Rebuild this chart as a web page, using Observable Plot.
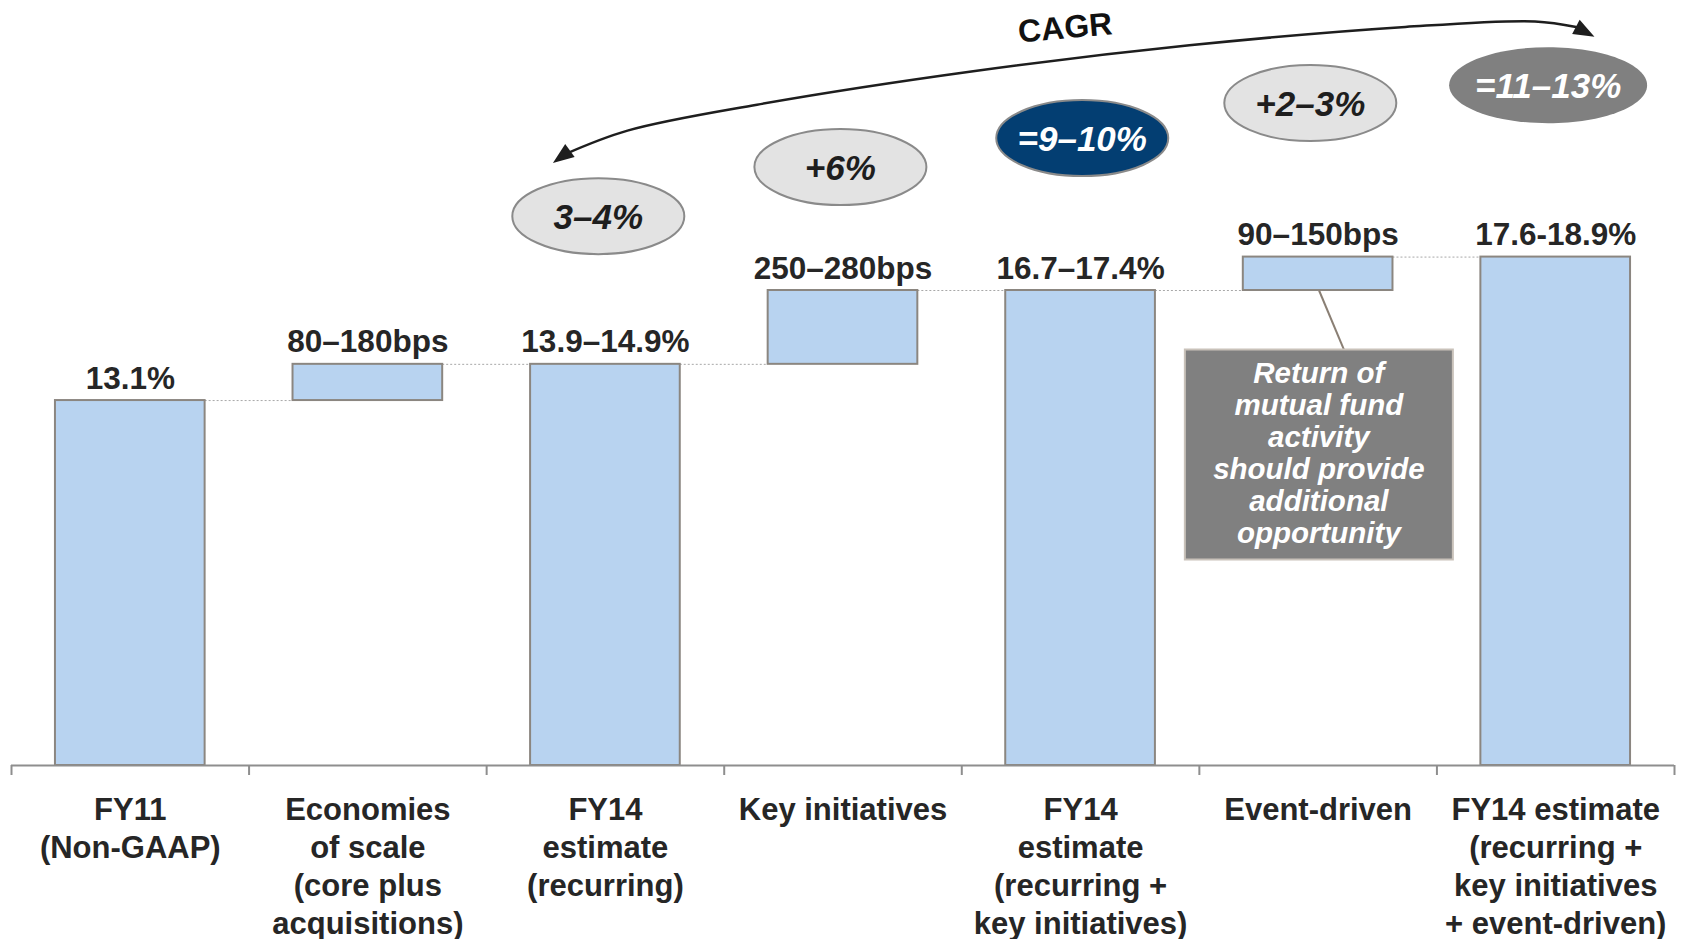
<!DOCTYPE html>
<html><head><meta charset="utf-8">
<script src="https://cdn.jsdelivr.net/npm/d3@7"></script>
<script src="https://cdn.jsdelivr.net/npm/@observablehq/plot@0.6"></script>
<style>
html,body{margin:0;padding:0;background:#fff;}
#chart{width:1694px;height:939px;overflow:hidden;}
</style></head><body><div id="chart"></div>
<script>
// ---- data ----
const categories = [
  "FY11\n(Non-GAAP)",
  "Economies\nof scale\n(core plus\nacquisitions)",
  "FY14\nestimate\n(recurring)",
  "Key initiatives",
  "FY14\nestimate\n(recurring +\nkey initiatives)",
  "Event-driven",
  "FY14 estimate\n(recurring +\nkey initiatives\n+ event-driven)"
];
const barStart = [0, 13.1, 0, 14.4, 0, 17.05, 0];
const barEnd = [13.1, 14.4, 14.4, 17.05, 17.05, 18.25, 18.25];
const valueLabels = ["13.1%", "80–180bps", "13.9–14.9%", "250–280bps", "16.7–17.4%", "90–150bps", "17.6-18.9%"];
const cagrLabels = ["3–4%", "+6%", "=9–10%", "+2–3%", "=11–13%"];
const cagrTitle = "CAGR";
const calloutText = "Return of\nmutual fund\nactivity\nshould provide\nadditional\nopportunity";

// ---- layout (annotation anchors in chart units: category index, % value) ----
const W = 1694, H = 939;
const font = "'Liberation Sans', Arial, Helvetica, sans-serif";
const textColor = "#262626";
const bandPad = 0.185;
const ellipseAt = [
  {x: 2.470, y: 19.72}, {x: 3.489, y: 21.48}, {x: 4.507, y: 22.52},
  {x: 5.467, y: 23.78}, {x: 6.468, y: 24.42}
];
const ellipseFill = ["#e3e3e3", "#e3e3e3", "#033e72", "#e3e3e3", "#808080"];
const ellipseStroke = ["#8a8a8a", "#8a8a8a", "#8a8a8a", "#8a8a8a", "none"];
const ellipseText = ["#1e1e1e", "#1e1e1e", "#ffffff", "#1e1e1e", "#ffffff"];
const cagrCurve = [
  [2.329, 21.94], [2.593, 22.79], [3.138, 23.72], [4.048, 24.92],
  [4.958, 25.85], [5.867, 26.51], [6.413, 26.71], [6.586, 26.51]
];

function ellipseSymbol(rx, ry) {
  const k = 0.5523;
  return {draw(c) {
    c.moveTo(rx, 0);
    c.bezierCurveTo(rx, ry * k, rx * k, ry, 0, ry);
    c.bezierCurveTo(-rx * k, ry, -rx, ry * k, -rx, 0);
    c.bezierCurveTo(-rx, -ry * k, -rx * k, -ry, 0, -ry);
    c.bezierCurveTo(rx * k, -ry, rx, -ry * k, rx, 0);
    c.closePath();
  }};
}
function rectSymbol(w, h) {
  return {draw(c) { c.rect(-w / 2, -h / 2, w, h); }};
}
function headSymbol(L, Wd) {
  return {draw(c) { c.moveTo(0, 0); c.lineTo(-L, -Wd / 2); c.lineTo(-L, Wd / 2); c.closePath(); }};
}

const idx = d3.range(categories.length);
const ell = idx.slice(0, 5);

const chart = Plot.plot({
  width: W, height: H,
  marginLeft: 11, marginRight: 20, marginTop: 0, marginBottom: 174,
  x: {domain: [0, categories.length], axis: null},
  y: {domain: [0, 27.46], axis: null},
  style: {fontFamily: font, fontWeight: "bold", color: textColor, background: "#fff", overflow: "visible"},
  marks: [
    // dotted connectors
    Plot.ruleY(idx.slice(0, 6), {
      y: i => barEnd[i], x1: i => i + 1 - bandPad, x2: i => i + 1 + bandPad,
      stroke: "#a8a8a8", strokeWidth: 1, strokeDasharray: "2,2"
    }),
    // bars
    Plot.rect(idx, {
      x1: i => i + bandPad, x2: i => i + 1 - bandPad,
      y1: i => barStart[i], y2: i => barEnd[i],
      fill: "#b8d3f0", stroke: "#8b8680", strokeWidth: 2
    }),
    // baseline + boundary ticks
    Plot.ruleY([0], {stroke: "#8e8e8e", strokeWidth: 2}),
    Plot.axisX(d3.range(categories.length + 1), {
      tickSize: 10, tickFormat: () => "", stroke: "#8e8e8e", strokeWidth: 2, label: null
    }),
    // category labels
    Plot.axisX(idx.map(i => i + 0.5), {
      tickSize: 0, tickPadding: 27, tickFormat: d => categories[Math.floor(d)],
      fontSize: 31, lineHeight: 1.23, fill: textColor, label: null
    }),
    // value labels
    Plot.text(idx, {
      x: i => i + 0.5, y: i => barEnd[i], text: i => valueLabels[i],
      fontSize: 31.5, lineAnchor: "middle", dy: -22, fill: textColor
    }),
    // callout leader line + box + text
    Plot.link([0], {x1: 5.504, y1: 17.05, x2: 5.609, y2: 14.92, stroke: "#8a7f74", strokeWidth: 2}),
    Plot.dot([0], {x: 5.503, y: 11.16, r: 1, symbol: rectSymbol(268, 210), fill: "#808080", stroke: "#c9c2ba", strokeWidth: 2}),
    Plot.text([calloutText], {
      x: 5.503, y: 11.22, text: d => d, fontSize: 29.5, fontStyle: "italic",
      fill: "#ffffff", lineHeight: 1.08, lineAnchor: "middle"
    }),
    // CAGR arrow
    Plot.line(cagrCurve, {x: d => d[0], y: d => d[1], curve: "catmull-rom", stroke: "#1e1e1e", strokeWidth: 2.5}),
    Plot.dot([0], {x: 2.279, y: 21.63, r: 1, rotate: 144, symbol: headSymbol(21, 16), fill: "#1e1e1e", stroke: "none"}),
    Plot.dot([0], {x: 6.663, y: 26.16, r: 1, rotate: 28, symbol: headSymbol(21, 16), fill: "#1e1e1e", stroke: "none"}),
    Plot.text([cagrTitle], {x: 4.435, y: 26.47, text: d => d, fontSize: 32, rotate: -5, fill: "#111"}),
    // CAGR ellipses
    Plot.dot(ell.slice(0, 4), {
      x: i => ellipseAt[i].x, y: i => ellipseAt[i].y, r: 1, symbol: ellipseSymbol(86, 38),
      fill: i => ellipseFill[i], stroke: i => ellipseStroke[i], strokeWidth: 2
    }),
    Plot.dot([4], {
      x: i => ellipseAt[i].x, y: i => ellipseAt[i].y, r: 1, symbol: ellipseSymbol(99, 38),
      fill: i => ellipseFill[i], stroke: "none"
    }),
    Plot.text(ell, {
      x: i => ellipseAt[i].x, y: i => ellipseAt[i].y, text: i => cagrLabels[i],
      fontSize: 35, fontStyle: "italic", fill: i => ellipseText[i], lineAnchor: "middle", dy: 2,
      ariaLabel: "cagr-values"
    })
  ]
});
// condense the ellipse labels horizontally (narrow face of the original)
d3.select(chart).selectAll('g[aria-label="cagr-values"] text').each(function() {
  const t = this.getAttribute("transform") || "";
  this.setAttribute("transform", t + " scale(0.86,1)");
});
document.getElementById("chart").appendChild(chart);
</script>
</body></html>
